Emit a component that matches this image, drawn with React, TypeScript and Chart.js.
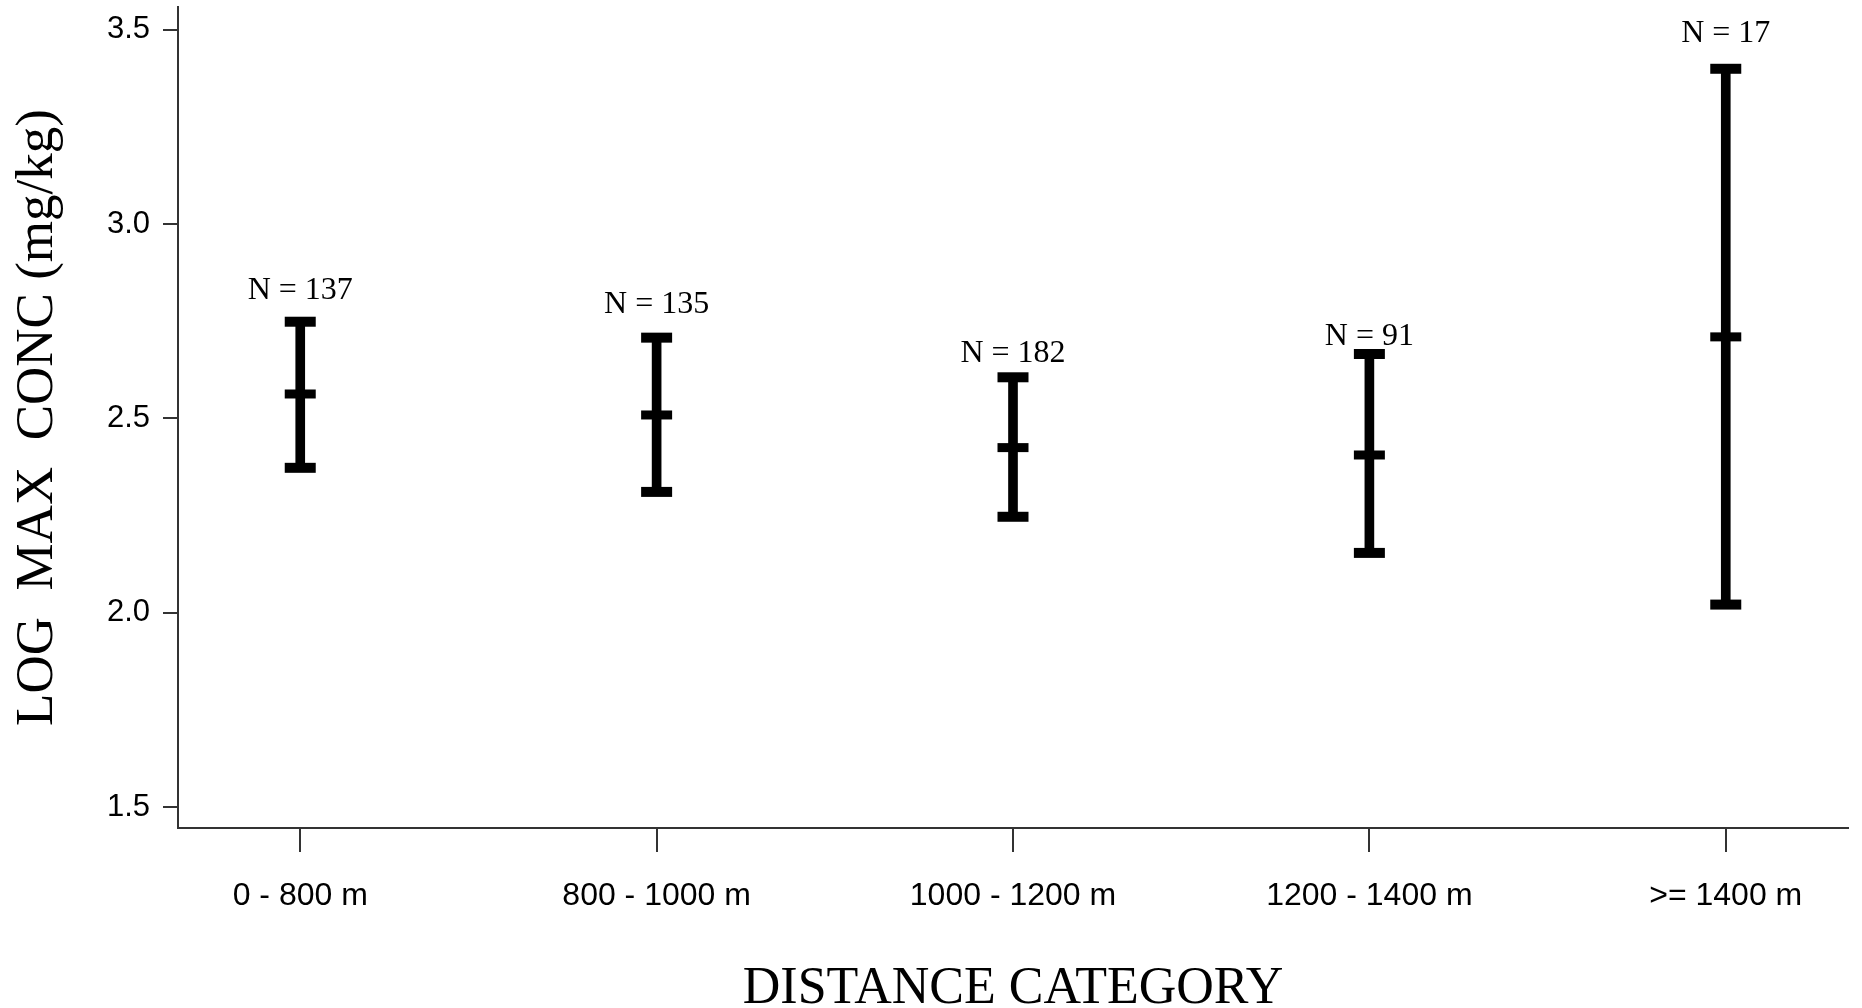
import React, { useEffect, useRef } from 'react';
import { Chart, registerables } from 'chart.js';

Chart.register(...registerables);

// ---- data ----
const categories: string[] = ['0 - 800 m', '800 - 1000 m', '1000 - 1200 m', '1200 - 1400 m', '>= 1400 m'];
const means: number[] = [2.563, 2.509, 2.425, 2.406, 2.71];
const upper: number[] = [2.749, 2.708, 2.606, 2.666, 3.4];
const lower: number[] = [2.373, 2.311, 2.247, 2.154, 2.021];
const nLabels: string[] = ['N = 137', 'N = 135', 'N = 182', 'N = 91', 'N = 17'];
const nLabelAnchor: number[] = [2.807, 2.771, 2.646, 2.689, 3.47];
const yTicks: number[] = [1.5, 2.0, 2.5, 3.0, 3.5];
const xTitle = 'DISTANCE CATEGORY';
const yTitle = 'LOG  MAX  CONC (mg/kg)';

const SERIF = "'Liberation Serif', 'Times New Roman', serif";
const TICKFONT = "'Liberation Sans Narrow', 'Liberation Sans', sans-serif";

const zeroPadding = (scale: any) => {
  scale.paddingTop = 0;
  scale.paddingBottom = 0;
  scale.paddingLeft = 0;
  scale.paddingRight = 0;
};

export default function App() {
  const ref = useRef<HTMLCanvasElement>(null);

  useEffect(() => {
    const canvas = ref.current;
    if (!canvas) return;

    const labelPlugin = {
      id: 'nLabels',
      afterDatasetsDraw(chart: any) {
        const { ctx, scales, chartArea } = chart;
        const xs = scales.x;
        const ys = scales.y;
        ctx.save();
        ctx.font = `32px ${SERIF}`;
        ctx.fillStyle = '#000';
        ctx.textAlign = 'center';
        ctx.textBaseline = 'alphabetic';
        nLabels.forEach((t, i) => {
          ctx.fillText(t, xs.getPixelForValue(i), ys.getPixelForValue(nLabelAnchor[i]));
        });
        // x-axis title at the bottom of the canvas
        ctx.font = `52px ${SERIF}`;
        ctx.fillText(xTitle, (chartArea.left + chartArea.right) / 2, chart.height - 5);
        ctx.restore();
      },
    };

    const capDataset = (vals: number[], width: number) => ({
      type: 'line' as const,
      data: vals.map((v, i) => ({ x: i, y: v })),
      showLine: false,
      pointStyle: 'line',
      pointRadius: 15.5,
      pointHoverRadius: 15.5,
      pointBorderWidth: width,
      pointHoverBorderWidth: width,
      pointBorderColor: '#000',
      pointBackgroundColor: '#000',
      borderColor: '#000',
      clip: false,
      order: 1,
    });

    const chart = new Chart(canvas, {
      type: 'bar',
      data: {
        datasets: [
          {
            type: 'bar',
            data: categories.map((_, i) => ({ x: i, y: [lower[i], upper[i]] })) as any,
            backgroundColor: '#000',
            borderWidth: 0,
            barThickness: 9,
            grouped: false,
            order: 2,
          } as any,
          capDataset(upper, 10) as any,
          capDataset(lower, 10) as any,
          capDataset(means, 9) as any,
        ],
      },
      options: {
        animation: false,
        responsive: false,
        events: [],
        layout: { autoPadding: false, padding: { top: 7, right: 14, left: 0, bottom: 0 } },
        plugins: {
          legend: { display: false },
          tooltip: { enabled: false },
        },
        scales: {
          x: {
            type: 'linear',
            min: -0.343,
            max: 4.343,
            offset: false,
            afterBuildTicks: (scale: any) => {
              scale.ticks = categories.map((_, i) => ({ value: i }));
            },
            afterFit: (scale: any) => {
              scale.height = 180;
              zeroPadding(scale);
            },
            grid: {
              offset: false,
              drawOnChartArea: false,
              drawTicks: true,
              tickLength: 24,
              color: '#333',
              lineWidth: 2,
            },
            border: { display: true, color: '#333', width: 2 },
            ticks: {
              autoSkip: false,
              maxRotation: 0,
              minRotation: 0,
              padding: 25,
              color: '#000',
              font: { family: TICKFONT, size: 32 },
              callback: (v: any) => categories[Number(v)] ?? '',
            },
            title: { display: false },
          },
          y: {
            type: 'linear',
            min: 1.446,
            max: 3.559,
            afterBuildTicks: (scale: any) => {
              scale.ticks = yTicks.map((v) => ({ value: v }));
            },
            afterFit: (scale: any) => {
              scale.width = 178;
              zeroPadding(scale);
            },
            grid: {
              drawOnChartArea: false,
              drawTicks: true,
              tickLength: 15,
              color: '#333',
              lineWidth: 2,
            },
            border: { display: true, color: '#333', width: 2 },
            ticks: {
              padding: 13,
              color: '#000',
              font: { family: TICKFONT, size: 31 },
              callback: (v: any) => Number(v).toFixed(1),
            },
            title: {
              display: true,
              text: yTitle,
              color: '#000',
              font: { family: SERIF, size: 53, lineHeight: 1 },
              padding: { top: 12, bottom: 0 },
            },
          },
        },
      } as any,
      plugins: [labelPlugin],
    });

    return () => chart.destroy();
  }, []);

  return (
    <div style={{ position: 'fixed', left: 0, top: 0, width: 1862, height: 1008, background: '#fff' }}>
      <canvas ref={ref} width={1862} height={1008} style={{ display: 'block', width: 1862, height: 1008 }} />
    </div>
  );
}
